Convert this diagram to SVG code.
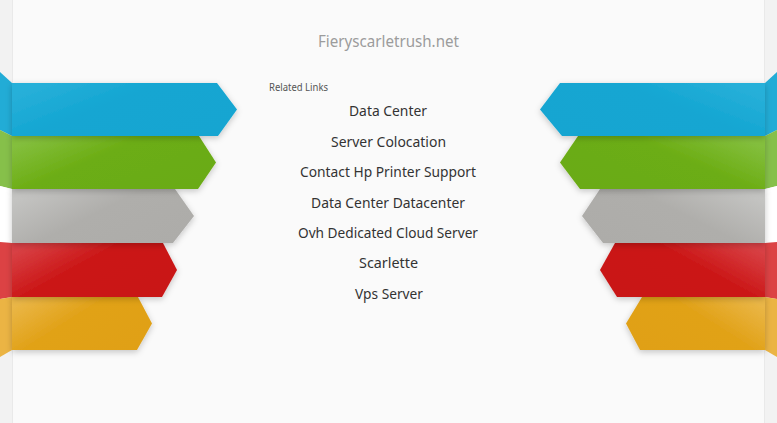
<svg xmlns="http://www.w3.org/2000/svg" width="777" height="423" viewBox="0 0 777 423">
<defs>
<style>
.link{font-family:"Noto Sans","DejaVu Sans",sans-serif;font-size:15px;fill:#333333;text-anchor:middle}
.title{font-family:"Noto Sans","DejaVu Sans",sans-serif;font-size:16.5px;fill:#9c9c9c;text-anchor:middle}
.rel{font-family:"Noto Sans","DejaVu Sans",sans-serif;font-size:10px;fill:#555555}
.rib{filter:url(#sh)}
</style>
<filter id="sh" x="-10%" y="-30%" width="120%" height="160%">
<feDropShadow dx="0" dy="2" stdDeviation="3" flood-color="#000" flood-opacity="0.22"/>
</filter>
<linearGradient id="bL" x1="0" y1="0.2" x2="1" y2="0.8"><stop offset="0" stop-color="#28b0d9"/><stop offset="0.4" stop-color="#14a6d2"/><stop offset="1" stop-color="#12a5d1"/></linearGradient>
<linearGradient id="gL" x1="0" y1="0.2" x2="1" y2="0.8"><stop offset="0" stop-color="#84bf3e"/><stop offset="0.4" stop-color="#6cad14"/><stop offset="1" stop-color="#6aab12"/></linearGradient>
<linearGradient id="yL" x1="0" y1="0.2" x2="1" y2="0.8"><stop offset="0" stop-color="#c4c4c2"/><stop offset="0.45" stop-color="#afaeab"/><stop offset="1" stop-color="#adaca9"/></linearGradient>
<linearGradient id="rL" x1="0" y1="0.2" x2="1" y2="0.8"><stop offset="0" stop-color="#d84044"/><stop offset="0.4" stop-color="#cb1717"/><stop offset="1" stop-color="#c91515"/></linearGradient>
<linearGradient id="oL" x1="0" y1="0.2" x2="1" y2="0.8"><stop offset="0" stop-color="#eab646"/><stop offset="0.4" stop-color="#e1a219"/><stop offset="1" stop-color="#e0a016"/></linearGradient>
<linearGradient id="bR" x1="1" y1="0.2" x2="0" y2="0.8"><stop offset="0" stop-color="#28b0d9"/><stop offset="0.4" stop-color="#14a6d2"/><stop offset="1" stop-color="#12a5d1"/></linearGradient>
<linearGradient id="gR" x1="1" y1="0.2" x2="0" y2="0.8"><stop offset="0" stop-color="#84bf3e"/><stop offset="0.4" stop-color="#6cad14"/><stop offset="1" stop-color="#6aab12"/></linearGradient>
<linearGradient id="yR" x1="1" y1="0.2" x2="0" y2="0.8"><stop offset="0" stop-color="#c4c4c2"/><stop offset="0.45" stop-color="#afaeab"/><stop offset="1" stop-color="#adaca9"/></linearGradient>
<linearGradient id="rR" x1="1" y1="0.2" x2="0" y2="0.8"><stop offset="0" stop-color="#d84044"/><stop offset="0.4" stop-color="#cb1717"/><stop offset="1" stop-color="#c91515"/></linearGradient>
<linearGradient id="oR" x1="1" y1="0.2" x2="0" y2="0.8"><stop offset="0" stop-color="#eab646"/><stop offset="0.4" stop-color="#e1a219"/><stop offset="1" stop-color="#e0a016"/></linearGradient>
</defs>

<g id="background">
<rect x="0" y="0" width="777" height="423" fill="#f2f2f2"/>
<rect x="12" y="0" width="753" height="423" fill="#fafafa"/>
<line x1="12.5" y1="0" x2="12.5" y2="423" stroke="#e9e9e9"/>
<line x1="764.5" y1="0" x2="764.5" y2="423" stroke="#e9e9e9"/>
</g>

<g id="left-folds">
<polygon points="0,72 12,83 12,136 0,130" fill="#22acd6"/>
<polygon points="0,130 12,136 12,189 0,186" fill="#86c04a"/>
<polygon points="0,186 12,189 12,243 0,242" fill="#ffffff"/>
<polygon points="0,242 12,243 12,297 0,299" fill="#dc4244"/>
<polygon points="0,299 12,297 12,350 0,357" fill="#ebb444"/>
</g>
<g id="right-folds">
<polygon points="777,72 765,83 765,136 777,130" fill="#22acd6"/>
<polygon points="777,130 765,136 765,189 777,186" fill="#86c04a"/>
<polygon points="777,186 765,189 765,243 777,242" fill="#ffffff"/>
<polygon points="777,242 765,243 765,297 777,299" fill="#dc4244"/>
<polygon points="777,299 765,297 765,350 777,357" fill="#ebb444"/>
</g>

<g id="left-ribbons">
<polygon class="rib" points="12,297 138,297 152,323.5 137,350 12,350" fill="url(#oL)"/>
<polygon class="rib" points="12,243 163,243 177,270 162,297 12,297" fill="url(#rL)"/>
<polygon class="rib" points="12,189 175,189 194,216 173,243 12,243" fill="url(#yL)"/>
<polygon class="rib" points="12,136 199,136 216,162.5 198,189 12,189" fill="url(#gL)"/>
<polygon class="rib" points="12,83 217,83 237,109.5 218,136 12,136" fill="url(#bL)"/>
</g>
<g id="right-ribbons">
<polygon class="rib" points="765,297 642,297 626,323.5 640,350 765,350" fill="url(#oR)"/>
<polygon class="rib" points="765,243 615,243 600,270 617,297 765,297" fill="url(#rR)"/>
<polygon class="rib" points="765,189 600,189 582,216 603,243 765,243" fill="url(#yR)"/>
<polygon class="rib" points="765,136 578,136 560,162.5 580,189 765,189" fill="url(#gR)"/>
<polygon class="rib" points="765,83 560,83 540,109.5 562,136 765,136" fill="url(#bR)"/>
</g>

<g id="title"><text class="title" x="388.5" y="47" textLength="141" lengthAdjust="spacingAndGlyphs">Fieryscarletrush.net</text></g>
<g id="related-links"><text class="rel" x="269" y="91" textLength="59" lengthAdjust="spacingAndGlyphs">Related Links</text></g>

<g id="links">
<g id="link-1"><text class="link" x="388" y="116" textLength="78" lengthAdjust="spacingAndGlyphs">Data Center</text></g>
<g id="link-2"><text class="link" x="388.5" y="146.5" textLength="115" lengthAdjust="spacingAndGlyphs">Server Colocation</text></g>
<g id="link-3"><text class="link" x="388" y="177" textLength="176" lengthAdjust="spacingAndGlyphs">Contact Hp Printer Support</text></g>
<g id="link-4"><text class="link" x="388" y="207.5" textLength="154" lengthAdjust="spacingAndGlyphs">Data Center Datacenter</text></g>
<g id="link-5"><text class="link" x="388" y="238" textLength="180" lengthAdjust="spacingAndGlyphs">Ovh Dedicated Cloud Server</text></g>
<g id="link-6"><text class="link" x="388.5" y="268" textLength="59" lengthAdjust="spacingAndGlyphs">Scarlette</text></g>
<g id="link-7"><text class="link" x="389" y="298.5" textLength="68" lengthAdjust="spacingAndGlyphs">Vps Server</text></g>
</g>
</svg>
